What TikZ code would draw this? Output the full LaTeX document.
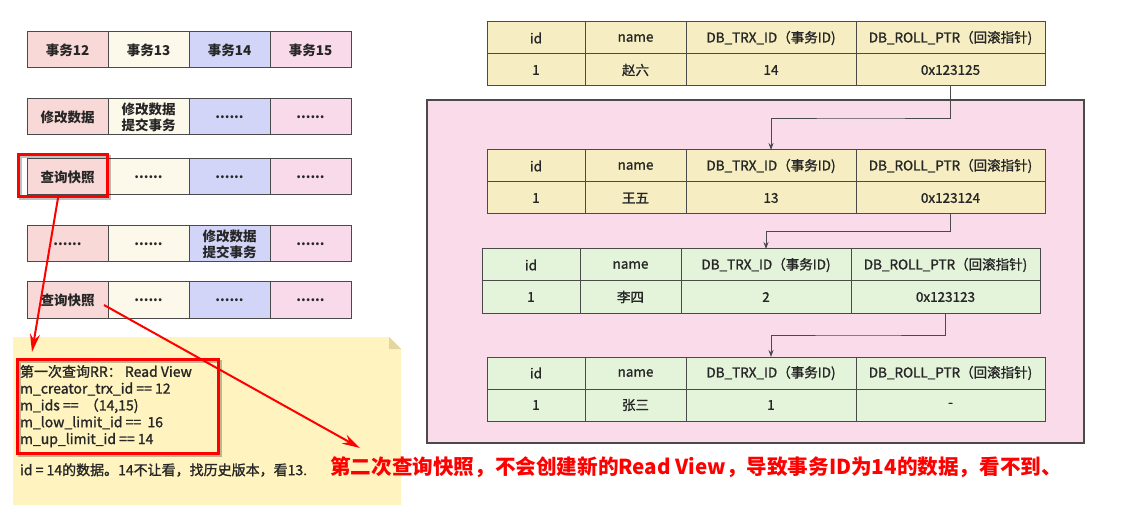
\documentclass[tikz,border=0pt]{standalone}
\usepackage{fontspec}
\setmainfont{Noto Sans CJK SC}
\newfontfamily\semib{Noto Sans CJK SC}[FakeBold=1.3]
\usetikzlibrary{arrows.meta,calc}
\definecolor{gA}{HTML}{F9D9D7}
\definecolor{gB}{HTML}{FCF8EA}
\definecolor{gC}{HTML}{D2D5F7}
\definecolor{gD}{HTML}{F9DAEA}
\definecolor{tabY}{HTML}{F6EEC2}
\definecolor{tabG}{HTML}{E4F4DA}
\definecolor{pinkbg}{HTML}{FADBEA}
\definecolor{notebg}{HTML}{FFF4C0}
\definecolor{notefold}{HTML}{E5D69F}
\definecolor{lineg}{HTML}{4A4A4A}
\definecolor{txt}{HTML}{262626}
\definecolor{hired}{HTML}{FF0000}
\tikzset{
  gcell/.style={draw=lineg, line width=1pt, minimum width=81pt, minimum height=36pt,
    anchor=north west, inner sep=0pt, outer sep=0pt, align=center, text=txt,
    font=\bfseries\fontsize{13.5}{16}\selectfont},
  tcell/.style={draw=lineg, line width=1pt, minimum height=32pt, anchor=north west,
    inner sep=0pt, outer sep=0pt, text=txt, font=\semib\fontsize{13.5}{15}\selectfont},
  conn/.style={draw=lineg, line width=0.9pt, -{Stealth[length=7pt,width=5pt]}},
  hibox/.style={draw=hired, line width=3pt, inner sep=0pt, outer sep=0pt, anchor=north west},
  hishadow/.style={draw=black, opacity=0.25, line width=3pt},
  redarrow/.style={draw=hired, line width=2pt, -{Stealth[length=18pt,width=10pt]}},
  notetxt/.style={text=txt, font=\semib\fontsize{14}{16.8}\selectfont, inner sep=0pt, outer sep=0pt},
}
\newcommand{\gridrow}[6]{%
  \node[gcell,fill=gA] (#1a) at (27,#2) {#3};
  \node[gcell,fill=gB] (#1b) at (#1a.north east) {#4};
  \node[gcell,fill=gC] (#1c) at (#1b.north east) {#5};
  \node[gcell,fill=gD] (#1d) at (#1c.north east) {#6};
}
\newcommand{\dbtab}[7]{%
  \node[tcell,fill=#4,minimum width=98pt]  (#1h1) at (#2,#3) {id};
  \node[tcell,fill=#4,minimum width=101pt] (#1h2) at (#1h1.north east) {name};
  \node[tcell,fill=#4,minimum width=170pt] (#1h3) at (#1h2.north east) {DB\_TRX\_ID（事务ID)};
  \node[tcell,fill=#4,minimum width=189pt] (#1h4) at (#1h3.north east) {DB\_ROLL\_PTR（回滚指针)};
  \node[tcell,fill=#4,minimum width=98pt]  (#1d1) at (#1h1.south west) {1};
  \node[tcell,fill=#4,minimum width=101pt] (#1d2) at (#1d1.north east) {#5};
  \node[tcell,fill=#4,minimum width=170pt] (#1d3) at (#1d2.north east) {#6};
  \node[tcell,fill=#4,minimum width=189pt] (#1d4) at (#1d3.north east) {#7};
}
\begin{document}
\begin{tikzpicture}[x=1pt,y=-1pt]
\useasboundingbox (0,0) rectangle (1147,518);
% left grid
\gridrow{r1}{32}{事务12}{事务13}{事务14}{事务15}
\gridrow{r2}{99}{修改数据}{修改数据\\提交事务}{......}{......}
\gridrow{r3}{159}{查询快照}{......}{......}{......}
\gridrow{r4}{226}{......}{......}{修改数据\\提交事务}{......}
\gridrow{r5}{282}{查询快照}{......}{......}{......}
% sticky note
\path[fill=notebg] (13,337) -- (389,337) -- (401,349) -- (401,505) -- (13,505) -- cycle;
\path[fill=notefold] (389,337) -- (401,349) -- (389,349) -- cycle;
% highlight boxes (with soft shadow)
\draw[hishadow] (20,157) rectangle (109,199);
\draw[hishadow] (19,361) rectangle (220,455);
\node[hibox, minimum width=89pt, minimum height=42pt] (hl1) at (18,155) {};
\node[hibox, minimum width=201pt, minimum height=94pt] (hl2) at (17,359) {};
\node[notetxt, anchor=north west, align=left] (rv) at (20,365)
  {第一次查询RR：\ Read View\\m\_creator\_trx\_id == 12\\m\_ids ==\ \ （14,15)\\m\_low\_limit\_id ==\ \ 16\\m\_up\_limit\_id == 14};
\node[notetxt, anchor=west] (hint) at (20,470) {id = 14的数据。14不让看，找历史版本，看13.};
% pink container
\node[draw=lineg, line width=1.2pt, fill=pinkbg, anchor=north west, minimum width=657pt,
  minimum height=343pt, inner sep=0pt, outer sep=0pt] (undo) at (427,100) {};
% tables
\dbtab{t1}{487}{22}{tabY}{赵六}{14}{0x123125}
\dbtab{t2}{487}{150}{tabY}{王五}{13}{0x123124}
\dbtab{t3}{482}{249}{tabG}{李四}{2}{0x123123}
\dbtab{t4}{487}{357}{tabG}{张三}{1}{-}
% connectors
\draw[conn] (t1d4.south) |- ($(t1d4.south)!0.5!(t2h3.north)$) -| (t2h3.north);
\draw[conn] (t2d4.south) |- ($(t2d4.south)!0.5!(t3h3.north)$) -| (t3h3.north);
\draw[conn] (t3d4.south) |- ($(t3d4.south)!0.5!(t4h3.north)$) -| (t4h3.north);
% red arrows
\coordinate (a1s) at (58,198);
\coordinate (a1e) at (32,352);
\coordinate (a2s) at (104,305);
\coordinate (a2e) at (360,448);
\draw[redarrow] (a1s) -- (a1e);
\draw[redarrow] (a2s) -- (a2e);
% message
\node[anchor=west, text=hired, inner sep=0pt, font=\bfseries\fontsize{20.6}{23}\selectfont] (msg) at (330,467)
  {第二次查询快照，不会创建新的Read View，导致事务ID为14的数据，看不到、};
\end{tikzpicture}
\end{document}
